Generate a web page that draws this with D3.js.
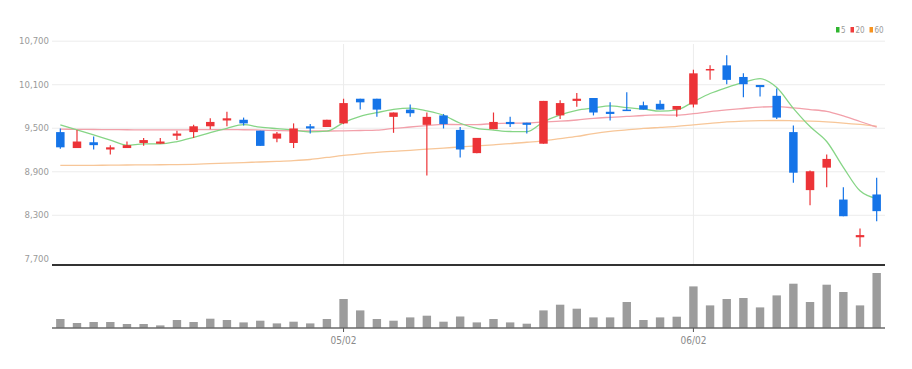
<!DOCTYPE html>
<html>
<head>
<meta charset="utf-8">
<script src="https://cdn.jsdelivr.net/npm/d3@7"></script>
<style>
  body { margin: 0; background: #fff; }
  text { font-family: 'Liberation Sans Narrow', 'DejaVu Sans Condensed', sans-serif; }
</style>
</head>
<body>
<div id="chart"></div>
<script>
// trading days (2023)
const dates = [
    "04/06","04/07","04/10","04/11","04/12","04/13","04/14","04/17","04/18","04/19",
    "04/20","04/21","04/24","04/25","04/26","04/27","04/28","05/02","05/03","05/04",
    "05/08","05/09","05/10","05/11","05/12","05/15","05/16","05/17","05/18","05/19",
    "05/22","05/23","05/24","05/25","05/26","05/30","05/31","06/01","06/02","06/05",
    "06/07","06/08","06/09","06/12","06/13","06/14","06/15","06/16","06/19","06/20"
]

const open = [
    9440,9220,9300,9200,9220,9290,9280,9390,9440,9520,
    9600,9610,9460,9350,9290,9520,9510,9560,9900,9900,
    9650,9750,9540,9670,9470,9150,9480,9580,9570,9280,
    9670,9870,9910,9720,9750,9810,9830,9750,9820,10290,
    10360,10200,10090,9940,9440,8640,8950,8510,7990,8580
]
const high = [
    9490,9470,9380,9260,9310,9360,9360,9460,9540,9630,
    9720,9640,9460,9440,9560,9550,9610,9900,9900,9900,
    9710,9820,9710,9690,9510,9360,9710,9650,9570,9870,
    9880,9980,9910,9850,9990,9860,9880,9800,10300,10360,
    10500,10250,10090,10040,9530,8910,9130,8680,8110,8810
]
const low = [
    9210,9220,9200,9130,9220,9250,9280,9330,9360,9480,
    9520,9530,9250,9300,9220,9420,9510,9550,9750,9650,
    9430,9650,8840,9490,9090,9150,9480,9510,9420,9280,
    9620,9790,9670,9600,9740,9750,9750,9650,9780,10160,
    10100,9920,9930,9620,8740,8430,8680,8280,7860,8210
]
const close = [
    9230,9310,9260,9230,9260,9330,9310,9420,9520,9580,
    9630,9560,9250,9420,9490,9490,9610,9840,9850,9750,
    9710,9700,9650,9550,9200,9360,9580,9550,9540,9870,
    9840,9900,9710,9690,9740,9750,9750,9800,10250,10310,
    10160,10100,10060,9640,8880,8900,9070,8280,8020,8350
]

// volume (shares)
const volume = [
    180000,100000,120000,120000,80000,80000,52000,160000,120000,186000,
    160000,112000,146000,92000,126000,92000,180000,580000,352000,180000,
    146000,212000,246000,126000,230000,112000,180000,112000,86000,352000,
    466000,386000,212000,212000,520000,160000,212000,226000,832000,452000,
    580000,600000,412000,652000,886000,520000,866000,720000,452000,1100000
]

// moving averages as drawn
const ma5 = [
    9540,9470,9400,9330,9258,9278,9278,9310,9368,9432,
    9492,9542,9508,9488,9470,9442,9452,9570,9656,9708,
    9752,9770,9732,9672,9562,9492,9468,9448,9446,9580,
    9676,9740,9772,9802,9776,9758,9728,9746,9858,9972,
    10054,10124,10176,10054,9768,9516,9310,8954,8630,8524
]
const ma20 = [
    9480,9478,9476,9474,9472,9470,9470,9470,9472,9474,
    9474,9472,9468,9462,9458,9455,9455,9458,9462,9467,
    9491,9510,9530,9546,9543,9544,9558,9564,9565,9580,
    9590,9607,9630,9644,9656,9669,9676,9674,9694,9722,
    9745,9765,9785,9790,9774,9751,9725,9662,9586,9510
]
const ma60 = [
    8980,8980,8982,8984,8986,8988,8990,8992,8996,9004,
    9012,9020,9028,9036,9046,9062,9090,9118,9140,9160,
    9175,9188,9205,9220,9235,9250,9265,9280,9300,9320,
    9350,9380,9420,9450,9470,9490,9505,9520,9540,9560,
    9580,9592,9598,9600,9596,9590,9580,9565,9545,9520
]

const priceTicks = [7700, 8300, 8900, 9500, 10100, 10700]
const dateTicks = ["05/02", "06/02"]
const legendItems = [
    {label: "5", color: "#2fb52f"},
    {label: "20", color: "#f03c3c"},
    {label: "60", color: "#f7931e"}
]

const up = "#ec3337"
const down = "#1574e8"

const W = 912, H = 369
const left = 52, right = 885
const priceBottom = 265
const volTop = 273, volBottom = 328

const svg = d3.select('#chart').append("svg")
    .attr("width", W)
    .attr("height", H)

const x = d3.scaleBand()
    .domain(dates)
    .range([left, right])
    .padding(0)
const bw = x.bandwidth()
const cx = d => x(d) + bw / 2

const y = d3.scaleLinear()
    .domain([7700, 10700])
    .range([258.3, 40.7])

const yv = d3.scaleLinear()
    .domain([0, d3.max(volume)])
    .range([volBottom, volTop])

// horizontal grid + labels
const yAx = d3.axisLeft(y)
    .tickValues(priceTicks)
    .tickFormat(d3.format(","))
    .tickSize(0)
    .tickPadding(3)

svg.append("g")
    .attr("transform", `translate(${left},0)`)
    .call(yAx)
    .call(g => g.select(".domain").remove())
    .call(g => g.selectAll(".tick line").clone()
        .attr("x2", right - left)
        .attr("stroke", "#ececec"))
    .call(g => g.selectAll(".tick text")
        .attr("fill", "#9a9a9a")
        .attr("font-size", 9.5)
        .attr("font-family", "'Liberation Sans Narrow', 'DejaVu Sans Condensed', sans-serif")
        .attr("dy", (d, i) => d === 7700 ? "0.32em" : "0.32em"))

// 7,700 gridline is hidden under the black frame line region
svg.selectAll(".tick").filter(d => d === 7700).select("line:last-of-type").remove()

// vertical grid lines on month starts
svg.selectAll(".vgrid")
    .data(dateTicks)
    .join("line")
    .attr("class", "vgrid")
    .attr("x1", d => cx(d))
    .attr("x2", d => cx(d))
    .attr("y1", 44)
    .attr("y2", priceBottom)
    .attr("stroke", "#ececec")

// moving average lines
const line = d3.line()
    .curve(d3.curveMonotoneX)
    .x((d, i) => cx(dates[i]))
    .y(d => y(d))

const maSeries = [
    {values: ma60, color: "#f7c698"},
    {values: ma20, color: "#f2a0aa"},
    {values: ma5, color: "#86d586"}
]

svg.selectAll(".ma")
    .data(maSeries)
    .join("path")
    .attr("class", "ma")
    .attr("d", d => line(d.values))
    .attr("fill", "none")
    .attr("stroke", d => d.color)
    .attr("stroke-width", 1.3)

// candles
const candles = dates.map((d, i) => ({date: d, o: open[i], h: high[i], l: low[i], c: close[i]}))
const cg = svg.append("g")

cg.selectAll(".wick")
    .data(candles)
    .join("line")
    .attr("class", "wick")
    .attr("x1", d => cx(d.date))
    .attr("x2", d => cx(d.date))
    .attr("y1", d => y(d.h))
    .attr("y2", d => y(d.l))
    .attr("stroke", d => d.c >= d.o ? up : down)
    .attr("stroke-width", 1.2)

const bodyW = 8.5
cg.selectAll(".body")
    .data(candles)
    .join("rect")
    .attr("class", "body")
    .attr("x", d => cx(d.date) - bodyW / 2)
    .attr("width", bodyW)
    .attr("y", d => y(Math.max(d.o, d.c)))
    .attr("height", d => Math.max(1.5, Math.abs(y(d.o) - y(d.c))))
    .attr("fill", d => d.c >= d.o ? up : down)

// frame line between price and volume
svg.append("line")
    .attr("x1", left)
    .attr("x2", right)
    .attr("y1", priceBottom)
    .attr("y2", priceBottom)
    .attr("stroke", "#333")
    .attr("stroke-width", 2)

// volume bars
svg.selectAll(".vol")
    .data(volume)
    .join("rect")
    .attr("class", "vol")
    .attr("x", (d, i) => cx(dates[i]) - 4.2)
    .attr("width", 8.4)
    .attr("y", d => yv(d))
    .attr("height", d => volBottom - yv(d))
    .attr("fill", "#9c9c9c")

// x axis under volume
const xAx = d3.axisBottom(x)
    .tickValues(dateTicks)
    .tickSize(4)
    .tickPadding(5)

svg.append("g")
    .attr("transform", `translate(0,${volBottom})`)
    .call(xAx)
    .call(g => g.select(".domain")
        .attr("d", `M${left},0H${right}`)
        .attr("stroke", "#6a6a6a")
        .attr("stroke-width", 1.5))
    .call(g => g.selectAll(".tick line").attr("stroke", "#555"))
    .call(g => g.selectAll(".tick text")
        .attr("fill", "#8a8a8a")
        .attr("font-size", 10)
        .attr("font-family", "'Liberation Sans Narrow', 'DejaVu Sans Condensed', sans-serif"))

// legend
const lg = svg.append("g")
    .attr("transform", "translate(836,29)")
let lx = 0
legendItems.forEach(item => {
    lg.append("rect")
        .attr("x", lx)
        .attr("y", -2)
        .attr("width", 3.5)
        .attr("height", 5.5)
        .attr("fill", item.color)
    lg.append("text")
        .attr("x", lx + 5)
        .attr("y", 3.5)
        .attr("font-size", 8)
        .attr("fill", "#9a9a9a")
        .text(item.label)
    lx += item.label.length === 1 ? 14.5 : 19
})
</script>
</body>
</html>
